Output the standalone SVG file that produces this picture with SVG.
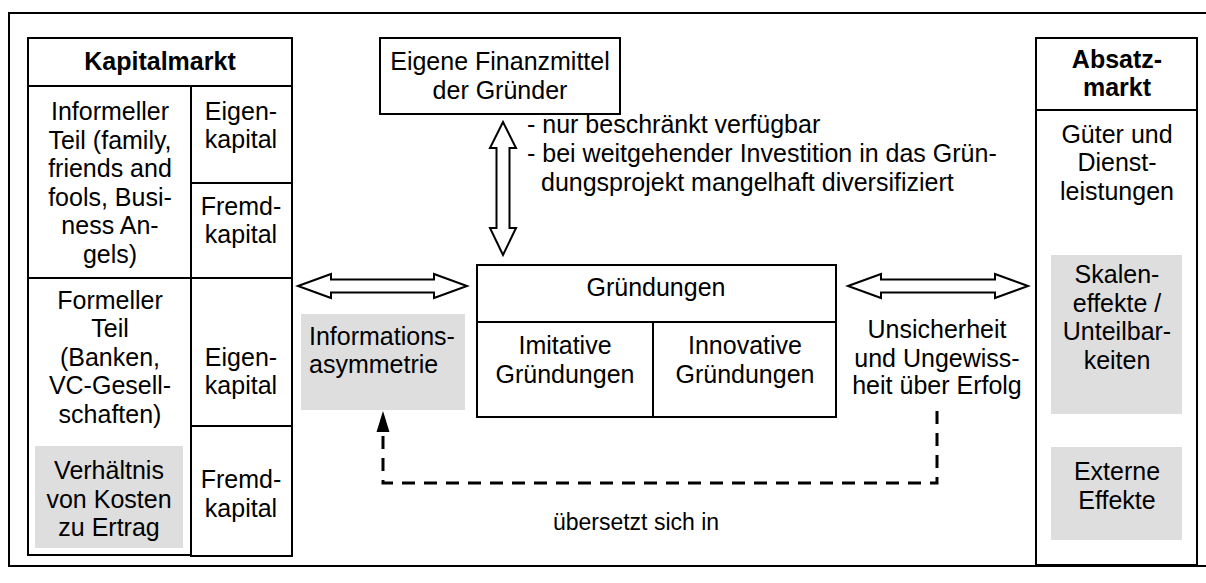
<svg xmlns="http://www.w3.org/2000/svg" width="1206" height="583" viewBox="0 0 1206 583">
<style>
text{font-family:"Liberation Sans",Arial,sans-serif;font-size:25px;fill:#000}
.b{font-weight:bold}
.c{text-anchor:middle}
.box{fill:#fff;stroke:#000;stroke-width:2}
.gray{fill:#dedede;stroke:none}
.harrow{fill:#fff;stroke:#000;stroke-width:2;stroke-linejoin:miter}
.dash{fill:none;stroke:#000;stroke-width:3;stroke-dasharray:13 9}
</style>
<rect x="9" y="13" width="1300" height="553" fill="#fff" stroke="#000" stroke-width="2"/>

<g id="kapitalmarkt">
<rect class="box" x="28" y="38" width="264" height="48"/>
<text class="b c" x="160" y="70">Kapitalmarkt</text>
<rect class="box" x="28" y="86" width="163" height="192"/>
<rect class="box" x="191" y="86" width="101" height="97"/>
<rect class="box" x="191" y="183" width="101" height="95"/>
<rect class="box" x="28" y="278" width="163" height="277"/>
<rect class="box" x="191" y="278" width="101" height="148"/>
<rect class="box" x="191" y="426" width="101" height="130"/>
<text class="c" x="110" y="120">Informeller</text>
<text class="c" x="110" y="149">Teil (family,</text>
<text class="c" x="110" y="177">friends and</text>
<text class="c" x="110" y="206">fools, Busi-</text>
<text class="c" x="110" y="234">ness An-</text>
<text class="c" x="110" y="263">gels)</text>
<text class="c" x="241" y="120">Eigen-</text>
<text class="c" x="241" y="148">kapital</text>
<text class="c" x="241" y="215">Fremd-</text>
<text class="c" x="241" y="243">kapital</text>
<text class="c" x="110" y="309">Formeller</text>
<text class="c" x="110" y="337">Teil</text>
<text class="c" x="110" y="366">(Banken,</text>
<text class="c" x="110" y="394">VC-Gesell-</text>
<text class="c" x="110" y="423">schaften)</text>
<rect class="gray" x="35" y="446" width="148" height="102"/>
<text class="c" x="109" y="479">Verhältnis</text>
<text class="c" x="109" y="508">von Kosten</text>
<text class="c" x="109" y="536">zu Ertrag</text>
<text class="c" x="241" y="366">Eigen-</text>
<text class="c" x="241" y="394">kapital</text>
<text class="c" x="241" y="488">Fremd-</text>
<text class="c" x="241" y="517">kapital</text>
</g>

<g id="eigene">
<rect class="box" x="380" y="38" width="240" height="76"/>
<text class="c" x="500" y="70">Eigene Finanzmittel</text>
<text class="c" x="500" y="99">der Gründer</text>
</g>

<g id="eigene-note">
<text x="527" y="133">- nur beschränkt verfügbar</text>
<text x="527" y="162">- bei weitgehender Investition in das Grün-</text>
<text x="541" y="191">dungsprojekt mangelhaft diversifiziert</text>
</g>

<g id="gruendungen">
<rect class="box" x="477" y="265" width="359" height="57"/>
<rect class="box" x="477" y="322" width="176" height="95"/>
<rect class="box" x="653" y="322" width="183" height="95"/>
<text class="c" x="656" y="296">Gründungen</text>
<text class="c" x="565" y="354">Imitative</text>
<text class="c" x="565" y="383">Gründungen</text>
<text class="c" x="745" y="354">Innovative</text>
<text class="c" x="745" y="383">Gründungen</text>
</g>

<g id="informationsasymmetrie">
<rect class="gray" x="301" y="314" width="164" height="96"/>
<text x="309" y="345">Informations-</text>
<text x="309" y="373">asymmetrie</text>
</g>

<g id="unsicherheit">
<text class="c" x="937" y="338">Unsicherheit</text>
<text class="c" x="937" y="367">und Ungewiss-</text>
<text class="c" x="937" y="394">heit über Erfolg</text>
</g>

<g id="absatzmarkt">
<rect class="box" x="1036" y="38" width="161" height="72"/>
<rect class="box" x="1036" y="110" width="161" height="455"/>
<text class="b c" x="1117" y="68">Absatz-</text>
<text class="b c" x="1117" y="96">markt</text>
<text class="c" x="1117" y="143">Güter und</text>
<text class="c" x="1117" y="171">Dienst-</text>
<text class="c" x="1117" y="200">leistungen</text>
<rect class="gray" x="1051" y="255" width="131" height="159"/>
<text class="c" x="1117" y="283">Skalen-</text>
<text class="c" x="1117" y="312">effekte /</text>
<text class="c" x="1117" y="340">Unteilbar-</text>
<text class="c" x="1117" y="369">keiten</text>
<rect class="gray" x="1051" y="447" width="131" height="93"/>
<text class="c" x="1117" y="480">Externe</text>
<text class="c" x="1117" y="509">Effekte</text>
</g>

<g id="connectors">
<path class="harrow" d="M503,122 L516,148 L509.5,148 L509.5,228 L516,228 L503,255 L490,228 L496.5,228 L496.5,148 L490,148 Z"/>
<path class="harrow" d="M298,286 L331,274 L331,279.5 L434,279.5 L434,274 L467,286 L434,298 L434,292.5 L331,292.5 L331,298 Z"/>
<path class="harrow" d="M848,286 L881,274 L881,279.5 L995,279.5 L995,274 L1028,286 L995,298 L995,292.5 L881,292.5 L881,298 Z"/>
<path class="dash" d="M937,411 L937,483 L383,483 L383,430"/>
<polygon points="383,411 376.5,432 389.5,432" fill="#000"/>
<text class="c" x="636" y="530" style="font-size:23px">übersetzt sich in</text>
</g>
</svg>
